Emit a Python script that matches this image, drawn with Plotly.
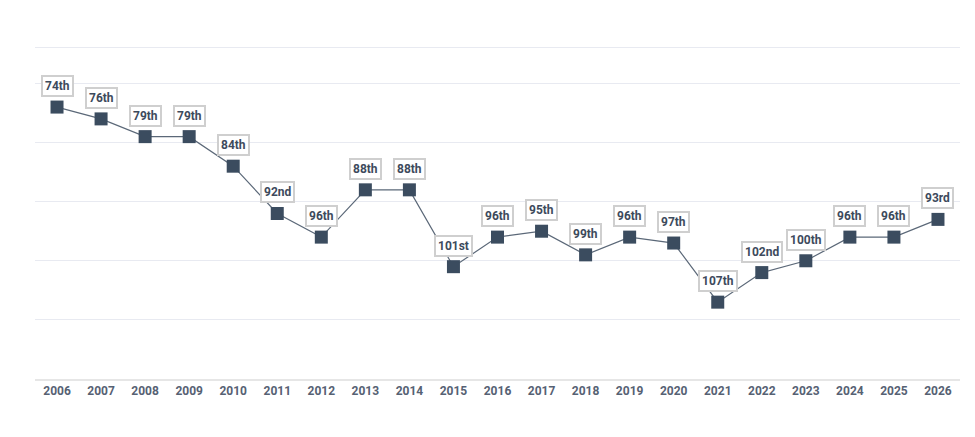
import plotly.graph_objects as go

years = [str(y) for y in range(2006, 2027)]
ranks = [74, 76, 79, 79, 84, 92, 96, 88, 88, 101, 96, 95, 99, 96, 97, 107, 102, 100, 96, 96, 93]
labels = ["74th", "76th", "79th", "79th", "84th", "92nd", "96th", "88th", "88th", "101st", "96th",
          "95th", "99th", "96th", "97th", "107th", "102nd", "100th", "96th", "96th", "93rd"]
grid_ticks = [64, 70, 80, 90, 100, 110, 120]

fig = go.Figure()
fig.add_trace(go.Scatter(
    x=years, y=ranks, mode="lines+markers",
    line=dict(color="#5b6878", width=1.2),
    marker=dict(symbol="square", size=13, color="#3b4c5f"),
    hoverinfo="skip",
))

for i, (y, t) in enumerate(zip(ranks, labels)):
    fig.add_annotation(
        x=i, y=y, xref="x", yref="y", text="<b>%s</b>" % t, showarrow=False,
        yshift=21, font=dict(family="Roboto", size=12, color="#3d4a5c"),
        bgcolor="white", bordercolor="#cfcfcf", borderwidth=2, borderpad=2,
    )

fig.update_layout(
    width=975, height=437,
    margin=dict(l=35, r=15, t=45, b=58),
    paper_bgcolor="white", plot_bgcolor="white",
    showlegend=False,
    xaxis=dict(
        type="category", range=[-0.5, 20.5], showgrid=False,
        showline=True, linecolor="#e6e6e6", linewidth=2,
        ticks="", tickfont=dict(family="Roboto", size=12, color="#566173", weight="bold"),
        fixedrange=True,
    ),
    yaxis=dict(
        range=[120, 63.5], tickvals=grid_ticks, showticklabels=False,
        showgrid=True, gridcolor="#e8eaf1", gridwidth=1, zeroline=False,
        fixedrange=True,
    ),
)

fig.write_html("out.html")
